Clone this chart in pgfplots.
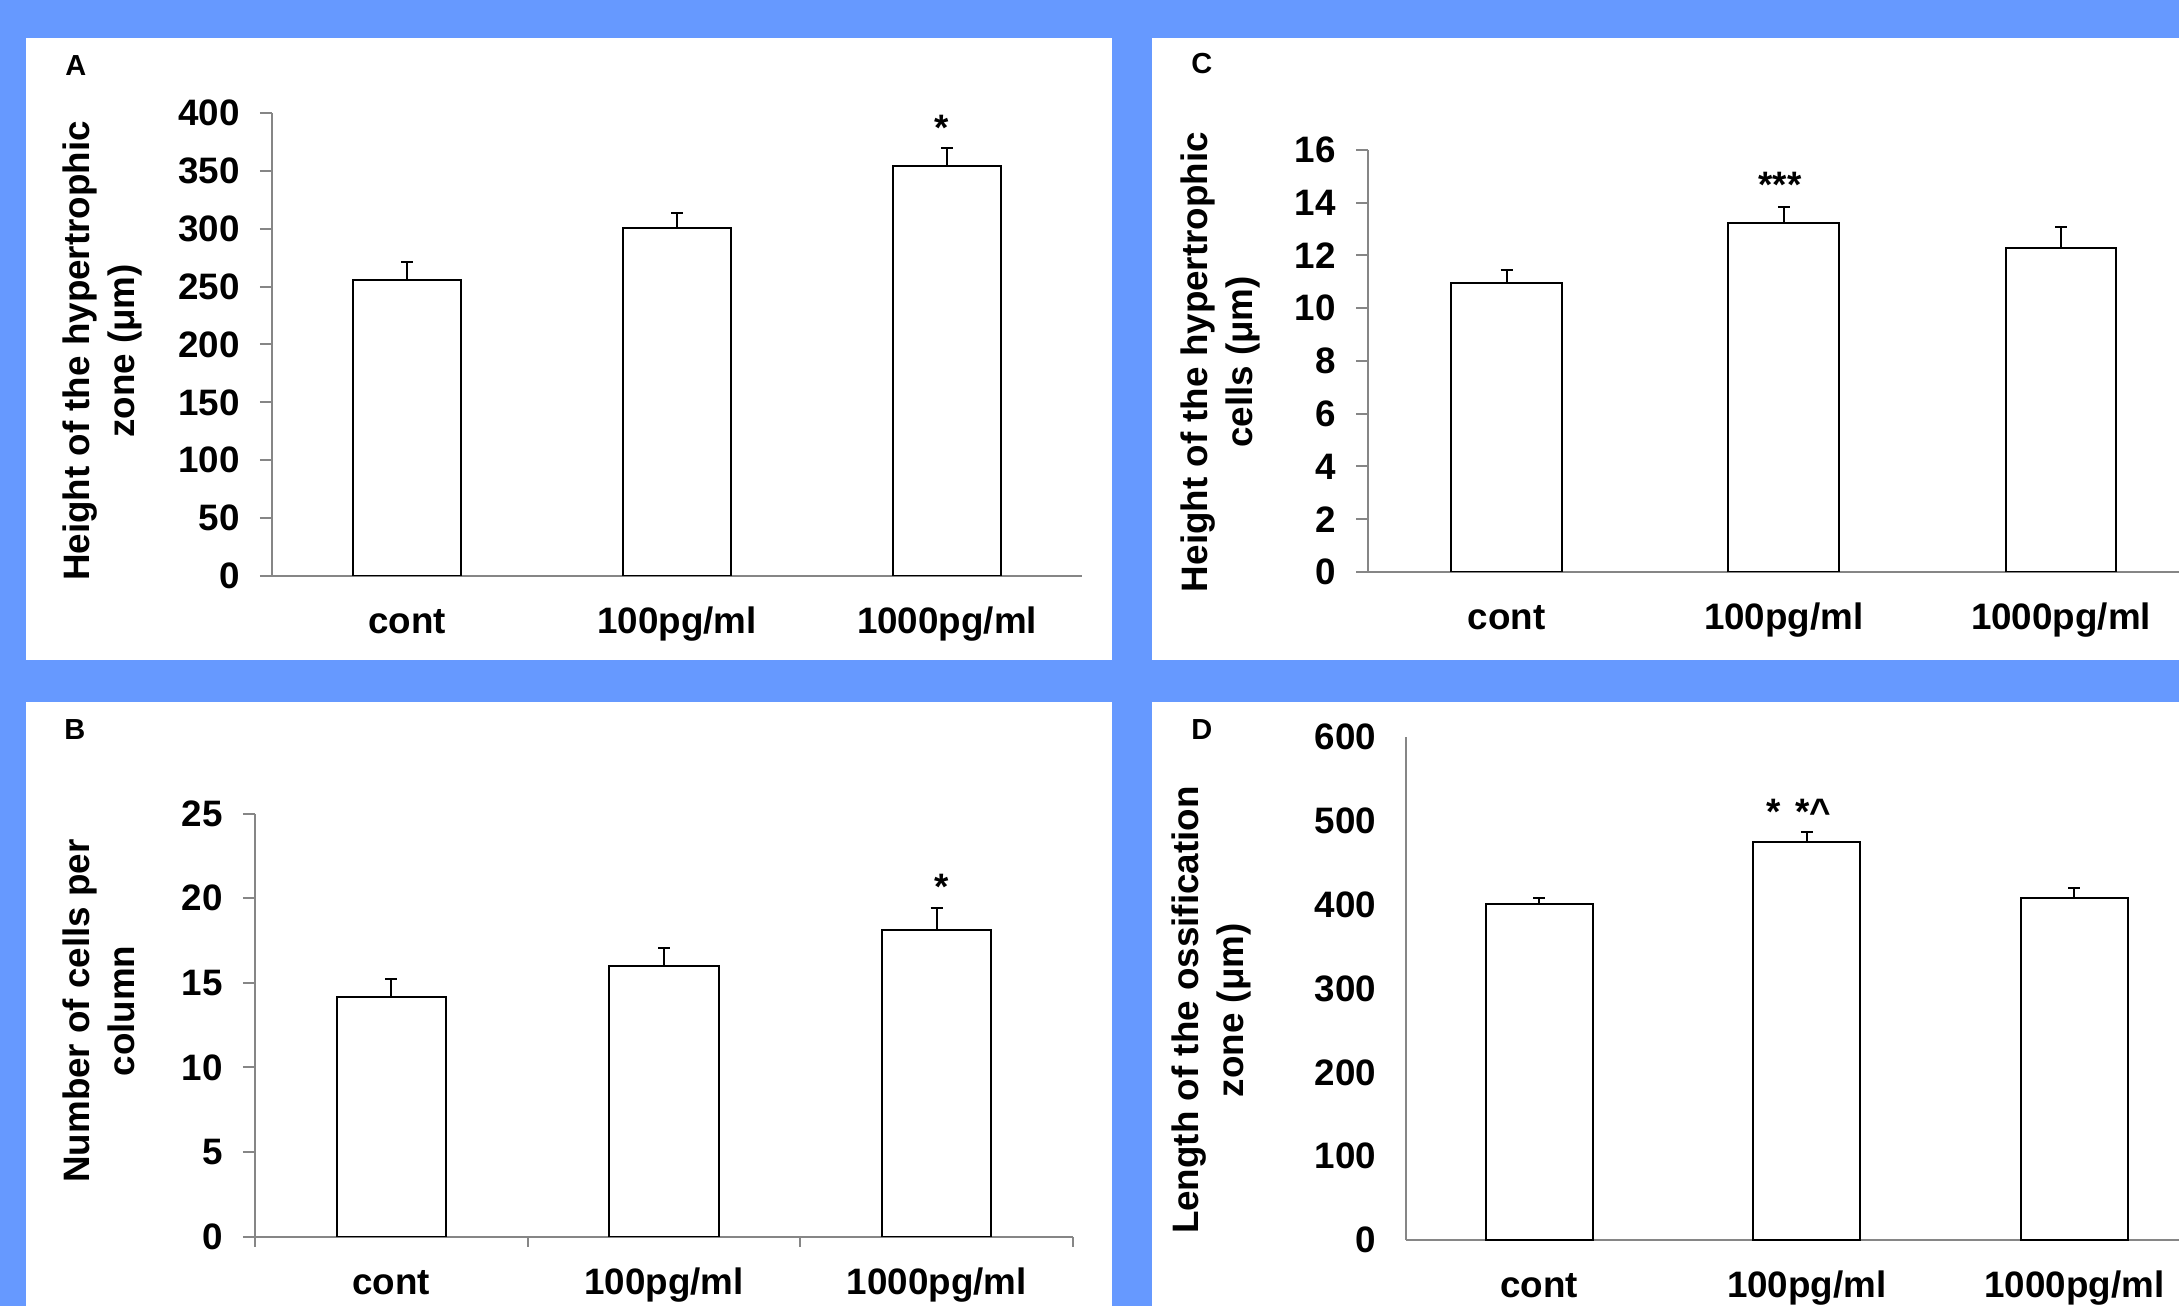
\documentclass[border=0pt]{standalone}
\usepackage{pgfplots}
\pgfplotsset{compat=1.18}
\usepackage{fontspec}
\setmainfont{Liberation Sans}
\definecolor{bgblue}{RGB}{102,153,255}
\definecolor{axisgray}{RGB}{134,134,134}
\newcommand\bigf{\bfseries\fontsize{18.4pt}{22.5pt}\selectfont}
\newcommand\letf{\bfseries\fontsize{14.5pt}{17pt}\selectfont}
\tikzset{ann/.style={anchor=base, inner sep=0pt, font=\bigf}}
\pgfplotsset{
  panel/.style={
    scale only axis, anchor=south west,
    xmin=0, xmax=3, ymin=0,
    axis x line*=bottom, axis y line*=left,
    axis line style={draw=axisgray, line width=1pt, -},
    tick align=outside,
    major tick length=6pt,
    every tick/.style={draw=axisgray, line width=1pt},
    xtick={0.5,1.5,2.5},
    xticklabels={cont,100pg/ml,1000pg/ml},
    xtick style={draw=none},
    minor tick num=0,
    /pgf/number format/assume math mode=true,
    ticklabel style={font=\bigf, inner sep=0pt},
    xticklabel style={anchor=base, yshift=-22.75pt},
    yticklabel style={anchor=east, xshift=-10pt},
    ylabel style={font=\bigf, align=center, anchor=center, inner sep=0pt},
    ybar, bar width=0.4,
  },
  barstyle/.style={fill=white, draw=black, line width=1pt,
    error bars/.cd, y dir=plus, y explicit, error mark=|,
    error bar style={black, line width=1pt},
    error mark options={black, line width=1pt, mark size=3pt}},
}
\begin{document}
\begin{tikzpicture}
\useasboundingbox (0,0) rectangle (1089.5pt,653pt);
\clip (0,0) rectangle (1089.5pt,653pt);
\fill[bgblue] (0,0) rectangle (1089.5pt,653pt);
\fill[white] (13pt,323pt) rectangle (556pt,634pt);
\fill[white] (576pt,323pt) rectangle (1089.5pt,634pt);
\fill[white] (13pt,0pt) rectangle (556pt,302pt);
\fill[white] (576pt,0pt) rectangle (1089.5pt,302pt);
\node[anchor=base west, inner sep=0pt, font=\letf] at (32.5pt,615pt) {A};
\node[anchor=base west, inner sep=0pt, font=\letf] at (595.5pt,616pt) {C};
\node[anchor=base west, inner sep=0pt, font=\letf] at (32pt,283pt) {B};
\node[anchor=base west, inner sep=0pt, font=\letf] at (595.5pt,283pt) {D};

% Panel A
\begin{axis}[panel, at={(136pt,365pt)}, width=405pt, height=231.5pt,
  ymax=400, ytick={0,50,...,400},
  ylabel={Height of the hypertrophic\\zone (μm)},
  ylabel style={at={(axis description cs:-0.2089,0.486)}}]
\addplot[barstyle] coordinates {(0.5,256) +- (0,15) (1.5,301) +- (0,13) (2.5,354) +- (0,16)};
\node[ann] at (axis cs:2.48,376.6) {*};
\end{axis}

% Panel C
\begin{axis}[panel, at={(684pt,367pt)}, width=415.8pt, height=211pt,
  ymax=16, ytick={0,2,...,16},
  ylabel={Height of the hypertrophic\\cells (μm)},
  ylabel style={at={(axis description cs:-0.177,0.4976)}}]
\addplot[barstyle] coordinates {(0.5,10.97) +- (0,0.49) (1.5,13.24) +- (0,0.59) (2.5,12.28) +- (0,0.81)};
\node[ann] at (axis cs:1.486,14.2) {***};
\end{axis}

% Panel B
\begin{axis}[panel, at={(127.5pt,34.65pt)}, width=409pt, height=211.5pt,
  ymax=25, ytick={0,5,...,25},
  extra x ticks={0,1,2,3}, extra x tick labels={},
  extra x tick style={xtick style={draw=axisgray, line width=1pt}, major tick length=5pt},
  ylabel={Number of cells per\\column},
  ylabel style={at={(axis description cs:-0.1908,0.5336)}}]
\addplot[barstyle] coordinates {(0.5,14.17) +- (0,1.07) (1.5,16.02) +- (0,1.07) (2.5,18.11) +- (0,1.29)};
\node[ann] at (axis cs:2.52,19.95) {*};
\end{axis}

% Panel D
\begin{axis}[panel, at={(702.75pt,33pt)}, width=401.25pt, height=251.5pt,
  ymax=600, ytick={0,100,...,600}, ytick style={draw=none},
  yticklabel style={xshift=1.5pt},
  ylabel={Length of the ossification\\zone (μm)},
  ylabel style={at={(axis description cs:-0.2415,0.457)}}]
\addplot[barstyle] coordinates {(0.5,401) +- (0,6.8) (1.5,475) +- (0,11.6) (2.5,408.3) +- (0,11.2)};
\node[ann, anchor=base west] at (axis cs:1.348,496) {*\hspace{7.3pt}*\textasciicircum};
\end{axis}
\end{tikzpicture}
\end{document}
